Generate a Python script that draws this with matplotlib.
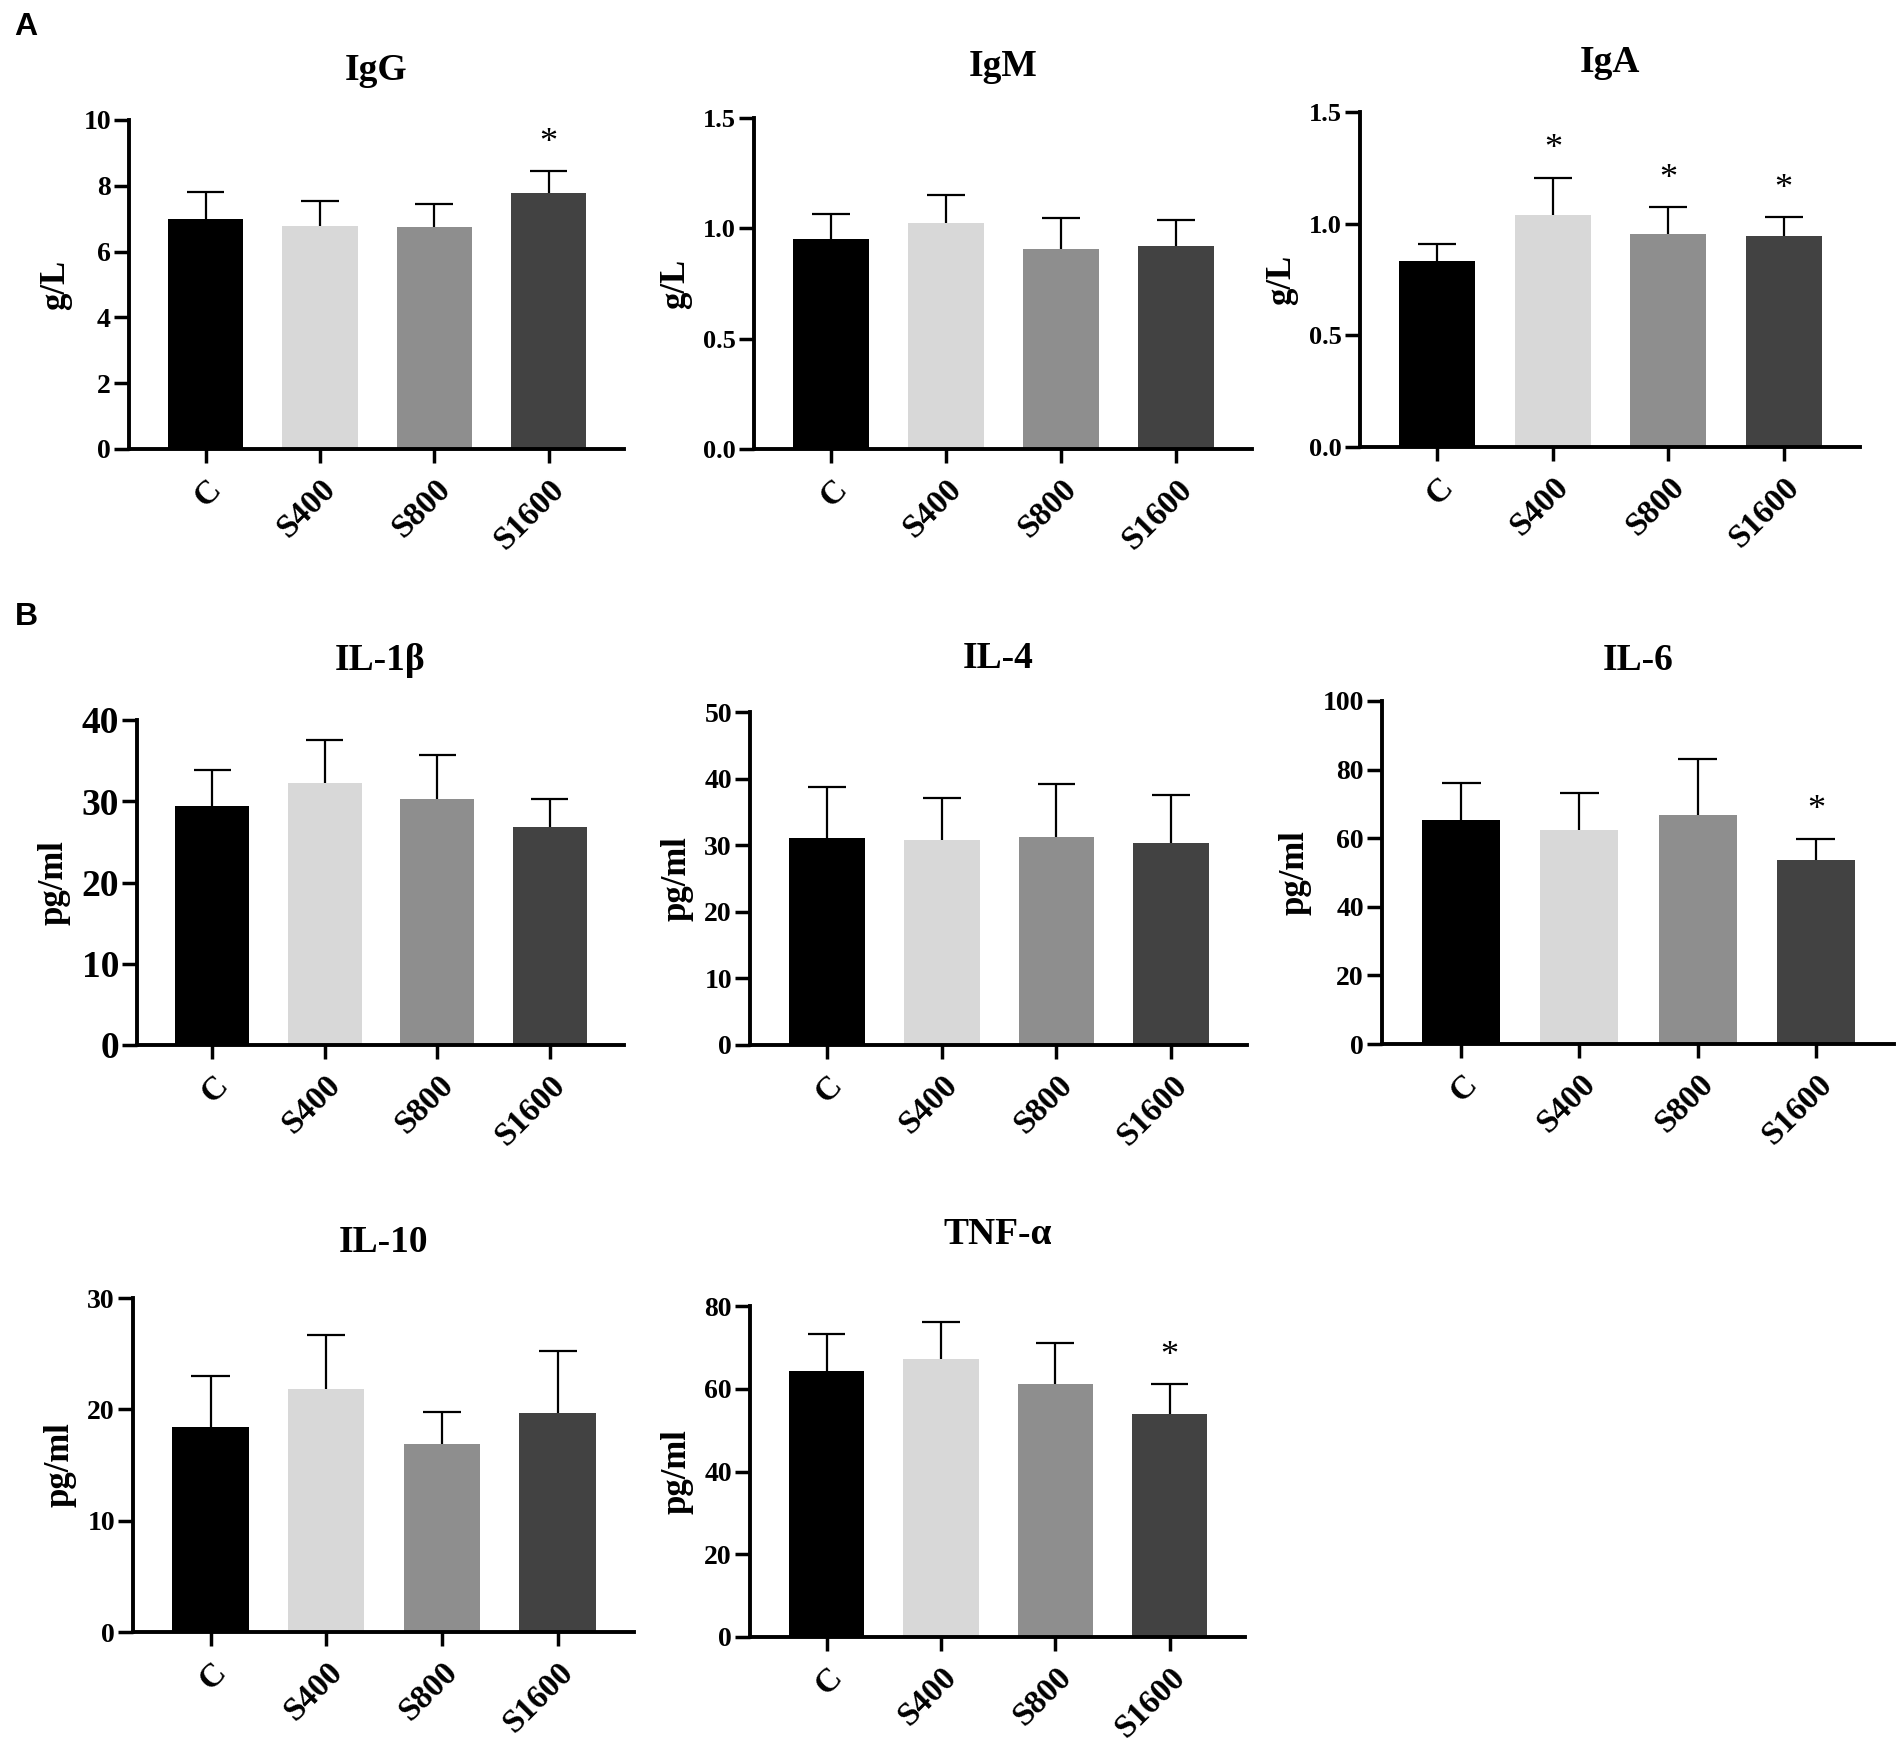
import numpy as np
import matplotlib
matplotlib.use("Agg")
import matplotlib.pyplot as plt

plt.rcParams['font.family'] = ['Liberation Serif', 'DejaVu Serif']
plt.rcParams['font.weight'] = 'bold'
plt.rcParams['axes.labelweight'] = 'bold'

groups = ["C", "S400", "S800", "S1600"]
colores = ["#000000", "#d8d8d8", "#8e8e8e", "#424242"]

# medias y desvio (barra de error superior)
igg = [7.00, 6.78, 6.75, 7.79]
igg_sd = [0.80, 0.76, 0.69, 0.66]
igm = [0.950, 1.023, 0.908, 0.921]
igm_sd = [0.114, 0.127, 0.140, 0.117]
iga = [0.835, 1.037, 0.954, 0.947]
iga_sd = [0.073, 0.169, 0.119, 0.081]
il1b = [29.4, 32.2, 30.3, 26.8]
il1b_sd = [4.4, 5.4, 5.4, 3.5]
il4 = [31.1, 30.8, 31.3, 30.3]
il4_sd = [7.6, 6.3, 7.9, 7.2]
il6 = [65.3, 62.4, 66.9, 53.5]
il6_sd = [10.7, 10.7, 16.2, 6.4]
il10 = [18.45, 21.87, 16.9, 19.7]
il10_sd = [4.55, 4.83, 2.9, 5.5]
tnf = [64.2, 67.2, 61.1, 53.9]
tnf_sd = [9.0, 9.0, 10.0, 7.2]

W, H = 1902, 1741

# (titulo, ylabel, medias, sd, yticks, formato, estrellas, caja px (izq, der, arriba, cero), y titulo px, tamaño ticks)
paneles = [
    ("IgG", "g/L", igg, igg_sd, [0, 2, 4, 6, 8, 10], "{:.0f}", [3], (129, 624, 120, 449), 70, 20),
    ("IgM", "g/L", igm, igm_sd, [0, 0.5, 1.0, 1.5], "{:.1f}", [], (754, 1252, 118, 449), 66, 19),
    ("IgA", "g/L", iga, iga_sd, [0, 0.5, 1.0, 1.5], "{:.1f}", [1, 2, 3], (1360, 1860, 112, 447), 62, 19),
    ("IL-1β", "pg/ml", il1b, il1b_sd, [0, 10, 20, 30, 40], "{:.0f}", [], (137, 624, 720, 1045), 660, 27),
    ("IL-4", "pg/ml", il4, il4_sd, [0, 10, 20, 30, 40, 50], "{:.0f}", [], (750, 1247, 712, 1045), 658, 20),
    ("IL-6", "pg/ml", il6, il6_sd, [0, 20, 40, 60, 80, 100], "{:.0f}", [3], (1382, 1894, 701, 1044), 661, 20),
    ("IL-10", "pg/ml", il10, il10_sd, [0, 10, 20, 30], "{:.0f}", [], (133, 634, 1298, 1632), 1243, 20),
    ("TNF-α", "pg/ml", tnf, tnf_sd, [0, 20, 40, 60, 80], "{:.0f}", [3], (750, 1245, 1306, 1637), 1234, 20),
]

fig = plt.figure(figsize=(W / 100, H / 100), dpi=100)

for titulo, ylab, medias, sd, yt, fmt, estrellas, caja, ty, fs in paneles:
    l, r, t, b = caja
    ax = fig.add_axes([l / W, 1 - b / H, (r - l) / W, (b - t) / H])
    x = np.arange(len(groups))
    medias = np.array(medias)
    sup = medias + np.array(sd)
    ax.bar(x, medias, width=0.66, color=colores, zorder=2)
    # barra de error solo hacia arriba
    ax.vlines(x, medias, sup, color="black", lw=1.6, zorder=3)
    ax.hlines(sup, x - 0.165, x + 0.165, color="black", lw=1.6, zorder=3)
    for i in estrellas:
        ax.annotate("*", (x[i], sup[i]), xytext=(0, 20), textcoords="offset points",
                    ha="center", va="center", fontsize=26, fontweight="normal")
    ax.set_xlim(-0.67, 3.66)
    ax.set_ylim(0, yt[-1])
    ax.set_yticks(yt)
    ax.set_yticklabels([fmt.format(v) for v in yt], fontsize=fs, fontweight="bold")
    ax.set_xticks(x)
    ax.set_xticklabels(groups, rotation=45, ha="right", va="top",
                       rotation_mode="anchor", fontsize=24, fontweight="bold")
    ax.spines[["top", "right"]].set_visible(False)
    ax.spines[["left", "bottom"]].set_linewidth(2.8)
    ax.tick_params(axis="y", length=11, width=2.5, pad=2)
    ax.tick_params(axis="x", length=10, width=2.5, pad=8)
    ax.set_ylabel(ylab, fontsize=25, fontweight="bold", labelpad=8)
    fig.text((l + r) / 2 / W, 1 - ty / H, titulo, ha="center", va="center",
             fontsize=27, fontweight="bold")

fig.text(26 / W, 1 - 27 / H, "A", ha="center", va="center", fontsize=23,
         family="Liberation Sans", fontweight="bold")
fig.text(26 / W, 1 - 617 / H, "B", ha="center", va="center", fontsize=23,
         family="Liberation Sans", fontweight="bold")

fig.savefig("out.png", dpi=100, facecolor="white")
